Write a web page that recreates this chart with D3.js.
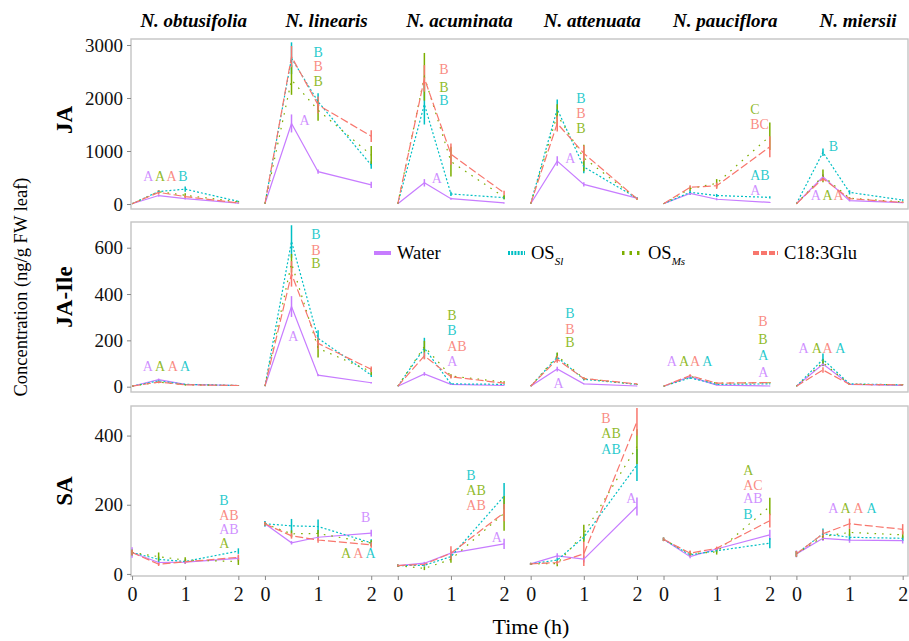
<!DOCTYPE html>
<html><head><meta charset="utf-8">
<script src="https://cdn.jsdelivr.net/npm/d3@7"></script>
<style>
body{margin:0;background:#fff;}
</style></head>
<body><svg id="c" width="909" height="641"></svg>
<script>
// ---------------- DATA ----------------
const species = ["N. obtusifolia","N. linearis","N. acuminata","N. attenuata","N. pauciflora","N. miersii"];
const times = [0, 0.5, 1, 2];
const xTickLabels = [0, 1, 2];
const treatments = ["Water","OS_Sl","OS_Ms","C18:3Glu"];
const hormones = ["JA","JA-Ile","SA"];
const yTicksJA = [0,1000,2000,3000];
const yTicksJAIle = [0,200,400,600];
const yTicksSA = [0,200,400];

// JA means (ng/g FW) [species][time]
const JA_Water = [[5,160,100,15],[5,1520,610,360],[5,400,100,20],[5,810,370,110],[5,200,90,30],[5,515,65,25]];
const JA_OSSl  = [[5,235,280,50],[5,2750,1930,735],[5,1880,190,120],[5,1790,700,110],[5,220,160,125],[5,975,220,75]];
const JA_OSMs  = [[5,230,165,40],[5,2340,1770,925],[5,2400,800,130],[5,1680,870,100],[5,290,390,1280],[5,530,110,40]];
const JA_C18   = [[5,220,140,20],[5,2780,1870,1280],[5,2370,940,210],[5,1520,955,100],[5,315,345,1080],[5,480,100,30]];
const JA_Water_se = [[0,20,15,5],[0,170,40,60],[0,70,20,10],[0,90,40,20],[0,30,20,10],[0,50,15,10]];
const JA_OSSl_se  = [[0,30,50,10],[0,300,160,70],[0,380,40,30],[0,180,120,20],[0,40,30,20],[0,70,40,15]];
const JA_OSMs_se  = [[0,30,40,10],[0,280,200,170],[0,450,280,40],[0,200,250,20],[0,40,80,260],[0,120,20,10]];
const JA_C18_se   = [[0,40,25,10],[0,200,160,110],[0,250,200,40],[0,150,150,20],[0,40,60,200],[0,50,20,10]];

// JA-Ile means
const JAIle_Water = [[2,30,10,5],[2,346,50,17],[2,55,10,5],[2,76,12,3],[2,43,7,3],[2,98,10,5]];
const JAIle_OSSl  = [[2,25,10,5],[2,627,209,50],[2,166,12,10],[2,127,32,10],[2,38,10,12],[2,118,12,8]];
const JAIle_OSMs  = [[2,20,8,5],[2,533,166,65],[2,173,46,20],[2,133,35,10],[2,45,15,17],[2,104,10,8]];
const JAIle_C18   = [[2,20,8,5],[2,487,187,75],[2,133,43,15],[2,118,35,12],[2,48,15,18],[2,72,10,8]];
const JAIle_Water_se = [[0,5,2,1],[0,45,5,3],[0,8,2,1],[0,10,2,1],[0,5,1,1],[0,10,2,1]];
const JAIle_OSSl_se  = [[0,5,2,1],[0,70,35,8],[0,45,4,2],[0,18,5,2],[0,5,2,2],[0,25,2,1]];
const JAIle_OSMs_se  = [[0,5,2,1],[0,40,40,15],[0,25,8,3],[0,15,6,2],[0,5,3,2],[0,15,2,1]];
const JAIle_C18_se   = [[0,4,2,1],[0,55,25,12],[0,15,8,3],[0,15,5,2],[0,6,3,2],[0,12,2,1]];

// SA means
const SA_Water = [[62,33,34,45],[145,90,106,118],[24,31,60,87],[29,52,43,195],[100,50,72,113],[58,103,98,96]];
const SA_OSSl  = [[62,42,36,66],[145,139,137,90],[24,25,50,225],[29,40,106,315],[100,55,67,89],[58,116,106,103]];
const SA_OSMs  = [[62,50,40,36],[145,116,117,89],[24,16,42,175],[29,30,117,368],[100,58,64,195],[58,108,120,113]];
const SA_C18   = [[62,28,35,48],[145,110,98,84],[24,28,60,177],[29,33,58,440],[100,60,74,154],[58,116,145,129]];
const SA_Water_se = [[15,5,5,8],[8,5,5,10],[3,4,8,15],[3,8,10,26],[5,5,5,15],[10,8,8,8]];
const SA_OSSl_se  = [[8,8,5,8],[8,20,20,10],[3,4,8,38],[3,5,10,46],[5,5,5,15],[8,15,10,8]];
const SA_OSMs_se  = [[8,12,8,10],[5,10,10,8],[3,5,10,50],[3,8,25,50],[5,8,8,25],[8,10,10,10]];
const SA_C18_se   = [[8,5,5,8],[5,8,8,8],[3,4,20,25],[3,5,35,40],[5,8,5,20],[8,12,15,15]];

// significance letters: [species index, time position, value, label, treatment index]
const JA_letters = [
 [0,0.21,515,"A",0],[0,0.43,515,"A",2],[0,0.65,515,"A",3],[0,0.87,515,"B",1],
 [1,0.915,2855,"B",1],[1,0.915,2590,"B",3],[1,0.915,2308,"B",2],[1,0.65,1572,"A",0],
 [2,0.78,2540,"B",3],[2,0.78,2200,"B",2],[2,0.78,1950,"B",1],[2,0.64,485,"A",0],
 [3,0.86,1995,"B",1],[3,0.86,1711,"B",3],[3,0.86,1428,"B",2],[3,0.65,862,"A",0],
 [4,1.63,1792,"C",2],[4,1.63,1509,"BC",3],[4,1.63,534,"AB",1],[4,1.63,264,"A",0],
 [5,0.61,1081,"B",1],[5,0.27,157,"A",0],[5,0.49,157,"A",2],[5,0.70,157,"A",3]
];
const JAIle_letters = [
 [0,0.20,86,"A",0],[0,0.43,86,"A",2],[0,0.67,86,"A",3],[0,0.90,86,"A",1],
 [1,0.87,655,"B",1],[1,0.87,586,"B",3],[1,0.87,533,"B",2],[1,0.44,216,"A",0],
 [2,0.93,307,"B",2],[2,0.93,242,"B",1],[2,0.93,173,"AB",3],[2,0.93,108,"A",0],
 [3,0.65,317,"B",1],[3,0.65,249,"B",3],[3,0.65,192,"B",2],[3,0.43,12,"A",0],
 [4,0.06,108,"A",0],[4,0.29,108,"A",2],[4,0.50,108,"A",3],[4,0.73,108,"A",1],
 [4,1.78,281,"B",3],[4,1.78,202,"B",2],[4,1.78,133,"A",1],[4,1.78,60,"A",0],
 [5,0.04,163,"A",0],[5,0.29,163,"A",2],[5,0.49,163,"A",3],[5,0.73,163,"A",1]
];
const SA_letters = [
 [0,1.64,212,"B",1],[0,1.64,168,"AB",3],[0,1.64,127,"AB",0],[0,1.64,89,"A",2],
 [1,1.81,163,"B",0],[1,1.43,58,"A",2],[1,1.66,58,"A",3],[1,1.89,58,"A",1],
 [2,1.29,284,"B",1],[2,1.29,241,"AB",2],[2,1.29,197,"AB",3],[2,1.77,105,"A",0],
 [3,1.33,450,"B",3],[3,1.33,405,"AB",2],[3,1.33,360,"AB",1],[3,1.80,217,"A",0],
 [4,1.50,299,"A",2],[4,1.50,257,"AC",3],[4,1.50,217,"AB",0],[4,1.50,173,"B",1],
 [5,0.60,190,"A",0],[5,0.83,190,"A",2],[5,1.07,190,"A",3],[5,1.32,190,"A",1]
];

// ---------------- LAYOUT / STYLE ----------------
const FONT = "Liberation Serif";
const colors = ["#C77CFF","#00BFC4","#7CAE00","#F8766D"];
const dashes = [null,"2,2","1.6,6","8,3"];
const legendDashes = [null,"2,1.2","2.5,5","6,2"];
const rows = [
  {label:"JA", means:[JA_Water,JA_OSSl,JA_OSMs,JA_C18], se:[JA_Water_se,JA_OSSl_se,JA_OSMs_se,JA_C18_se],
   letters:JA_letters, ticks:yTicksJA, domain:[-94,3113], top:39, bottom:209, labOff:-4},
  {label:"JA-Ile", means:[JAIle_Water,JAIle_OSSl,JAIle_OSMs,JAIle_C18], se:[JAIle_Water_se,JAIle_OSSl_se,JAIle_OSMs_se,JAIle_C18_se],
   letters:JAIle_letters, ticks:yTicksJAIle, domain:[-23,711], top:222, bottom:392, labOff:-10},
  {label:"SA", means:[SA_Water,SA_OSSl,SA_OSMs,SA_C18], se:[SA_Water_se,SA_OSSl_se,SA_OSMs_se,SA_C18_se],
   letters:SA_letters, ticks:yTicksSA, domain:[-6,485.5], top:406, bottom:576, labOff:0}
];
const left = 131, right = 908;
const spGap = 2.5;
const x = d3.scaleLinear().domain([-0.02, 14.6]).range([left, right]);
const xp = (s,t) => x(s*spGap + t);

const svg = d3.select("#c");

// species titles
svg.selectAll("text.sp").data(species).join("text")
  .attr("x",(d,i)=>xp(i,1.16)).attr("y",27)
  .attr("text-anchor","middle").attr("font-size",19)
  .attr("font-weight","bold").attr("font-style","italic")
  .text(d=>d);

rows.forEach((r,ri)=>{
  const y = d3.scaleLinear().domain(r.domain).range([r.bottom, r.top]);
  const g = svg.append("g");
  g.append("rect").attr("x",left).attr("y",r.top).attr("width",right-left).attr("height",r.bottom-r.top)
    .attr("fill","#fff").attr("stroke","#c4c4c4").attr("stroke-width",1.4);
  // y axis
  const ax = d3.axisLeft(y).tickValues(r.ticks).tickSize(4).tickPadding(4).tickFormat(d3.format("d"));
  const ag = g.append("g").attr("transform",`translate(${left},0)`).call(ax);
  ag.select(".domain").remove();
  ag.attr("font-family",FONT).attr("font-size",19);
  ag.selectAll("line").attr("stroke","#888");
  ag.selectAll("text").attr("fill","#111");
  // row label
  g.append("text").attr("transform",`translate(72,${(r.top+r.bottom)/2 + r.labOff}) rotate(-90)`)
    .attr("text-anchor","middle").attr("font-size",23).attr("font-weight","bold").text(r.label);

  // error bars
  r.means.forEach((m,ti)=>{
    m.forEach((vals,si)=>{
      vals.forEach((v,k)=>{
        const e = r.se[ti][si][k];
        if(e>0){
          g.append("line").attr("x1",xp(si,times[k])).attr("x2",xp(si,times[k]))
            .attr("y1",y(v-e)).attr("y2",y(v+e))
            .attr("stroke",colors[ti]).attr("stroke-width",1.5);
        }
      });
    });
  });
  // lines
  const line = d3.line().x(d=>d[0]).y(d=>d[1]);
  [0,1,2,3].forEach(ti=>{
    r.means[ti].forEach((vals,si)=>{
      const pts = vals.map((v,k)=>[xp(si,times[k]), y(v)]);
      g.append("path").attr("d",line(pts)).attr("fill","none")
        .attr("stroke",colors[ti]).attr("stroke-width",1.2)
        .attr("stroke-dasharray",dashes[ti]);
    });
  });
  // letters
  g.selectAll("text.let").data(r.letters).join("text")
    .attr("x",d=>xp(d[0],d[1])).attr("y",d=>y(d[2]))
    .attr("dominant-baseline","central").attr("font-size",14)
    .attr("fill",d=>colors[d[4]]).attr("fill-opacity",0.85).text(d=>d[3]);

  // x axis on bottom row
  if(ri===rows.length-1){
    species.forEach((s,si)=>{
      const xs = d3.scaleLinear().domain([0,2]).range([xp(si,0),xp(si,2)]);
      const xa = d3.axisBottom(xs).tickValues(xTickLabels).tickSize(4).tickPadding(7).tickFormat(d3.format("d"));
      const xg = g.append("g").attr("transform",`translate(0,${r.bottom})`).call(xa);
      xg.select(".domain").remove();
      xg.attr("font-family",FONT).attr("font-size",20);
      xg.selectAll("line").attr("stroke","#888");
      xg.selectAll("text").attr("fill","#111");
    });
  }
});

// legend (inside JA-Ile panel)
const legX = [374, 508, 622, 753];
const legW = [17, 17, 20, 25];
const legY = 253;
treatments.forEach((t,i)=>{
  svg.append("line").attr("x1",legX[i]).attr("x2",legX[i]+legW[i]).attr("y1",legY).attr("y2",legY)
    .attr("stroke",colors[i]).attr("stroke-width",4).attr("stroke-dasharray",legendDashes[i]);
  const tx = svg.append("text").attr("x",legX[i]+legW[i]+6).attr("y",legY+6).attr("font-size",18.5);
  if(t==="OS_Sl"||t==="OS_Ms"){
    tx.append("tspan").text("OS");
    tx.append("tspan").attr("dy",6).attr("font-size",11).attr("font-style","italic").text(t==="OS_Sl"?"Sl":"Ms");
  } else tx.text(t);
});

// axis titles
svg.append("text").attr("transform","translate(27,287) rotate(-90)").attr("text-anchor","middle")
  .attr("font-size",18.5).text("Concentration (ng/g FW leaf)");
svg.append("text").attr("x",531).attr("y",634).attr("text-anchor","middle").attr("font-size",22).text("Time (h)");

svg.selectAll("text").attr("font-family", FONT).style("font-family", FONT);
</script></body></html>
